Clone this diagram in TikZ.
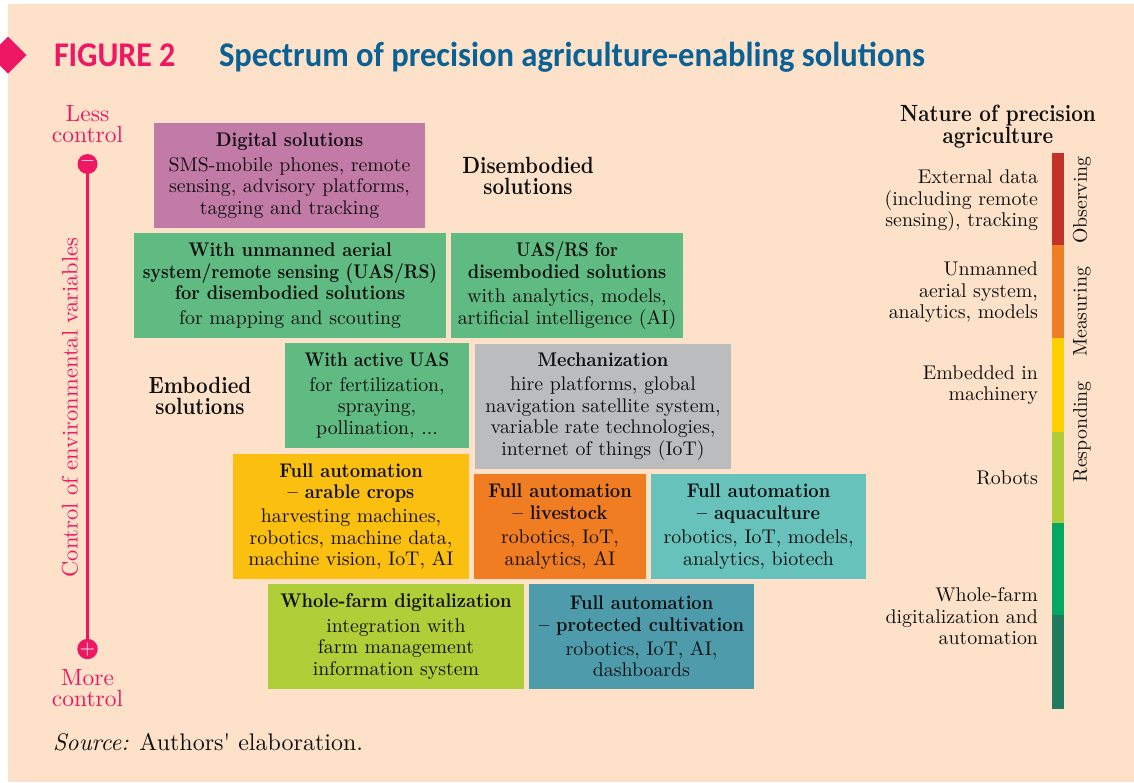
\documentclass[tikz,border=0pt]{standalone}
\usepackage{fontspec}
\usepackage{graphicx}
\setmainfont{lmroman10-regular}[Extension=.otf,BoldFont=lmroman10-bold,ItalicFont=lmroman10-italic]
\newfontfamily\titlefont{Carlito}
\usetikzlibrary{shapes.geometric}
\definecolor{bgpeach}{HTML}{FDE1C8}
\definecolor{pinkred}{HTML}{EE1763}
\definecolor{titleblue}{HTML}{0A6196}
\definecolor{cpurple}{HTML}{C27AA6}
\definecolor{cgreen}{HTML}{60BB82}
\definecolor{cgrey}{HTML}{BBBCBE}
\definecolor{cyellow}{HTML}{FBBF10}
\definecolor{corange}{HTML}{F07D22}
\definecolor{cteal}{HTML}{68C2BC}
\definecolor{clime}{HTML}{AFCE37}
\definecolor{cblue}{HTML}{4E9CAB}
\definecolor{bred}{HTML}{C13227}
\definecolor{borange}{HTML}{EE7D23}
\definecolor{byellow}{HTML}{FFD000}
\definecolor{blime}{HTML}{B0CC3A}
\definecolor{bgreen}{HTML}{05A862}
\definecolor{bdark}{HTML}{1F7A60}
\definecolor{inkc}{HTML}{111011}
\newcommand{\bl}[2][0.905]{\scalebox{#1}[1]{\bfseries #2}}
\newcommand{\hl}[1]{\scalebox{0.86}[1]{\bfseries #1}}
\newcommand{\ttl}[1]{\scalebox{0.94}[1]{\titlefont\bfseries #1}}
\tikzset{
  every node/.style={inner sep=0pt,outer sep=0pt,text=inkc,font=\fontsize{14.85}{16.1}\selectfont},
  tbox/.style={align=center,anchor=center},
  headtxt/.style={align=center,anchor=center,font=\fontsize{17.6}{16.3}\selectfont},
  lbl/.style={align=right,anchor=east,font=\fontsize{14.9}{16.1}\selectfont},
  red label/.style={align=center,text=pinkred,anchor=center,font=\fontsize{17.6}{16.3}\selectfont},
  endcap/.style={circle,fill=pinkred,minimum size=15pt,text=white,font=\fontsize{15}{15}\selectfont},
}
\newcommand{\tboxat}[8]{% name,x1,y1,x2,y2,color,dy,text
  \fill[#6] (#2,#3) rectangle (#4,#5);
  \node[tbox] (#1) at ({(#2+#4)/2},{(#3+#5)/2+#7}) {#8};
}
\begin{document}
\begin{tikzpicture}[x=0.75pt,y=-0.75pt]
\useasboundingbox (0,0) rectangle (1134,782);
\fill[white] (0,0) rectangle (1134,782);
\fill[bgpeach] (8,4) rectangle (1134,782);
\begin{scope}
\clip (0,0) rectangle (1134,782);
\fill[pinkred] (-10.5,55) -- (8,36.5) -- (26.5,55) -- (8,73.5) -- cycle;
\end{scope}
\node[anchor=base west,text=pinkred,font=\fontsize{26}{26}\selectfont] (fig) at (54,66) {\scalebox{0.98}[1]{\ttl{FIGURE 2}}};
\node[anchor=base west,text=titleblue,font=\fontsize{26}{26}\selectfont] (title) at (219,66) {\ttl{Spectrum of precision agriculture-enabling solutions}};

\node[red label] (less) at (87.5,124) {Less\\control};
\node[red label] (more) at (87.5,688) {More\\control};
\node[endcap] (minus) at (87.5,164) {\bfseries –};
\node[endcap] (plus) at (87.5,649) {+};
\draw[pinkred,line width=2.2pt] (minus) -- (plus);
\node[rotate=90,text=pinkred,anchor=center,font=\fontsize{16.85}{17}\selectfont] (axis) at (70,407.5) {Control of environmental variables};

\tboxat{digital}{154}{123}{425}{228}{cpurple}{0}{\bl{Digital solutions}\\[2.2pt]SMS-mobile phones, remote\\sensing, advisory platforms,\\tagging and tracking}
\tboxat{uasm}{134}{233}{446}{338}{cgreen}{0}{\bl{With unmanned aerial}\\\bl[0.86]{system/remote sensing (UAS/RS)}\\\bl{for disembodied solutions}\\[2.2pt]for mapping and scouting}
\tboxat{uasd}{451}{233}{683}{338}{cgreen}{0}{\bl[0.82]{UAS/RS for}\\\bl{disembodied solutions}\\[2.2pt]with analytics, models,\\artificial intelligence (AI)}
\tboxat{active}{285}{343}{469}{448}{cgreen}{0}{\bl[0.84]{With active UAS}\\[2.2pt]for fertilization,\\spraying,\\pollination, ...}
\tboxat{mech}{475}{344}{731}{469}{cgrey}{0}{\bl{Mechanization}\\[2.2pt]hire platforms, global\\navigation satellite system,\\variable rate technologies,\\internet of things (IoT)}
\tboxat{arable}{233}{454}{469}{579}{cyellow}{0}{\bl{Full automation}\\\bl{– arable crops}\\[2.2pt]harvesting machines,\\robotics, machine data,\\machine vision, IoT, AI}
\tboxat{live}{474}{474}{646}{579}{corange}{0}{\bl{Full automation}\\\bl{– livestock}\\[2.2pt]robotics, IoT,\\analytics, AI}
\tboxat{aqua}{651}{474}{866}{579}{cteal}{0}{\bl{Full automation}\\\bl{– aquaculture}\\[2.2pt]robotics, IoT, models,\\analytics, biotech}
\tboxat{whole}{268}{584}{524}{689}{clime}{0}{\bl{Whole-farm digitalization}\\[2.2pt]integration with\\farm management\\information system}
\tboxat{prot}{529}{584}{754}{689}{cblue}{0}{\bl{Full automation}\\\bl{– protected cultivation}\\[2.2pt]robotics, IoT, AI,\\dashboards}

\node[headtxt] (dis) at (528,176) {\hl{Disembodied}\\\hl{solutions}};
\node[headtxt] (emb) at (200,396) {\hl{Embodied}\\\hl{solutions}};
\node[headtxt] (nature) at (998,126.5) {\hl{Nature of precision}\\\hl{agriculture}};

\fill[bred] (1052,153) rectangle (1064,245);
\fill[borange] (1052,245) rectangle (1064,338);
\fill[byellow] (1052,338) rectangle (1064,432);
\fill[blime] (1052,432) rectangle (1064,523);
\fill[bgreen] (1052,523) rectangle (1064,615);
\fill[bdark] (1052,615) rectangle (1064,709);

\node[lbl] (l1) at (1038,201) {External data\\(including remote\\sensing), tracking};
\node[lbl] (l2) at (1038,292.5) {Unmanned\\aerial system,\\analytics, models};
\node[lbl] (l3) at (1038,385) {Embedded in\\machinery};
\node[lbl] (l4) at (1038,478) {Robots};
\node[lbl] (l5) at (1038,616.5) {Whole-farm\\digitalization and\\automation};

\node[rotate=90,anchor=center] (obs) at (1082,200) {Observing};
\node[rotate=90,anchor=center] (mea) at (1082,312) {Measuring};
\node[rotate=90,anchor=center] (res) at (1082,432) {Responding};

\node[anchor=base west,font=\fontsize{18}{18}\selectfont] (src) at (53,750) {\textit{Source:} Authors\textquotesingle{} elaboration.};
\end{tikzpicture}
\end{document}
